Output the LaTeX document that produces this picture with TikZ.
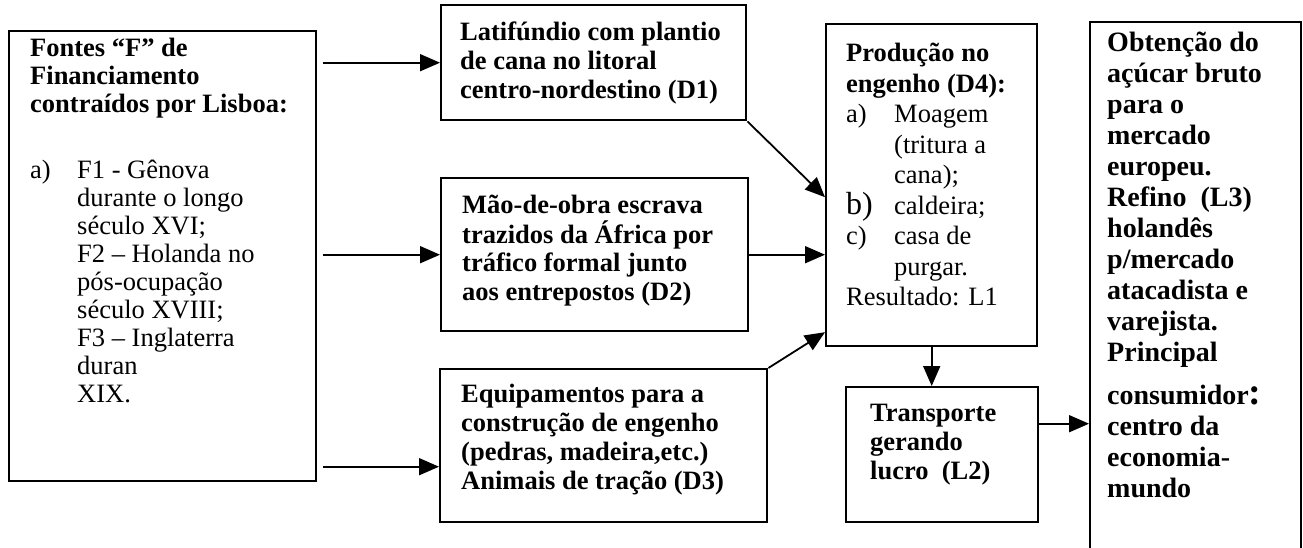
\documentclass[tikz,border=0pt]{standalone}
\usepackage{fontspec}
\setmainfont{Liberation Serif}
\usetikzlibrary{arrows.meta}

\tikzset{
  caixa/.style={draw, line width=2.4pt, anchor=north west, inner sep=0pt},
  texto/.style={anchor=base west, inner sep=0pt, font=\fontsize{26.5}{29}\selectfont},
  seta/.style={-{Triangle[length=20pt, width=17pt]}, line width=1.8pt},
}
\newcommand{\bloco}[2]{\parbox[t]{#1}{\raggedright #2}}
\newcommand{\recuo}{\hspace*{47pt}}
\newcommand{\recuoD}{\hspace*{48pt}}

\begin{document}
\begin{tikzpicture}[x=1pt, y=-1pt]
    \useasboundingbox (0,0) rectangle (1303,548);

    % CAIXAS
    \node[caixa, minimum width=307pt, minimum height=450pt] (fontes) at (8,30) {};
    \node[caixa, minimum width=305pt, minimum height=115pt] (d1) at (440,4) {};
    \node[caixa, minimum width=307pt, minimum height=153pt] (d2) at (440,177) {};
    \node[caixa, minimum width=327pt, minimum height=153pt] (d3) at (439,368) {};
    \node[caixa, minimum width=211pt, minimum height=322pt] (d4) at (825,23) {};
    \node[caixa, minimum width=192pt, minimum height=135pt] (l2) at (845,386) {};
    \node[caixa, minimum width=211pt, minimum height=545pt] (l3) at (1089,21) {};

    % TEXTOS
    \node[texto, font=\fontsize{26.5}{28}\selectfont] (fontestxt) at (30,57) {\bloco{280pt}{%
        \textbf{Fontes “F” de}\\
        \textbf{Financiamento}\\
        \textbf{contraídos por Lisboa:}\\[38pt]
        \makebox[47pt][l]{a)}F1 - Gênova\\
        \recuo durante o longo\\
        \recuo século XVI;\\
        \recuo F2 – Holanda no\\
        \recuo pós-ocupação\\
        \recuo século XVIII;\\
        \recuo F3 – Inglaterra\\
        \recuo duran\\
        \recuo XIX.}};
    \node[texto, font=\fontsize{26.5}{29}\selectfont\bfseries] (d1txt) at (460,41) {\bloco{290pt}{%
        Latifúndio com plantio\\
        de cana no litoral\\
        centro-nordestino (D1)}};
    \node[texto, font=\fontsize{26.5}{29}\selectfont\bfseries] (d2txt) at (462,214) {\bloco{290pt}{%
        Mão-de-obra escrava\\
        trazidos da África por\\
        tráfico formal junto\\
        aos entrepostos (D2)}};
    \node[texto, font=\fontsize{26.5}{29}\selectfont\bfseries] (d3txt) at (461,402) {\bloco{300pt}{%
        Equipamentos para a\\
        construção de\ engenho\\
        (pedras, madeira,etc.)\\
        Animais de tração (D3)}};
    \node[texto, font=\fontsize{26.5}{30.5}\selectfont] (d4txt) at (846,62) {\bloco{190pt}{%
        \textbf{Produção no}\\
        \textbf{engenho (D4):}\\
        \makebox[48pt][l]{a)}Moagem\\
        \recuoD (tritura a\\
        \recuoD cana);\\
        \makebox[48pt][l]{\fontsize{32}{30.5}\selectfont b)}caldeira;\\
        \makebox[48pt][l]{c)}casa de\\
        \recuoD purgar.\\
        Resultado: L1}};
    \node[texto, font=\fontsize{26.5}{29}\selectfont\bfseries] (l2txt) at (870,421) {\bloco{160pt}{%
        Transporte\\
        gerando\\
        lucro\ \ (L2)}};
    \node[texto, font=\fontsize{28}{31}\selectfont\bfseries] (l3txt) at (1107,52) {\bloco{190pt}{%
        Obtenção do\\
        açúcar bruto\\
        para o\\
        mercado\\
        europeu.\\
        Refino\ \ (L3)\\
        holandês\\
        p/mercado\\
        atacadista e\\
        varejista.\\
        Principal\\[12pt]
        consumidor{\fontsize{38}{31}\selectfont:}\\
        centro da\\
        economia-\\
        mundo}};

    % SETAS
    \draw[seta, shorten <=6pt] (fontes.east |- d1.west) -- (d1.west);
    \draw[seta, shorten <=6pt] (fontes.east |- d2.west) -- (d2.west);
    \draw[seta, shorten <=6pt] ([yshift=-21pt]d3.west -| fontes.east) -- ([yshift=-21pt]d3.west);
    \draw[seta] (d1.south east) -- ([yshift=-12pt]d4.west);
    \draw[seta] (d2.east) -- (d2.east -| d4.west);
    \draw[seta] (d3.north east) -- ([yshift=-147pt]d4.west);
    \draw[seta] (d4.south) -- (d4.south |- l2.north);
    \draw[seta] ([yshift=31pt]l2.east) -- ([yshift=31pt]l2.east -| l3.west);
\end{tikzpicture}
\end{document}
